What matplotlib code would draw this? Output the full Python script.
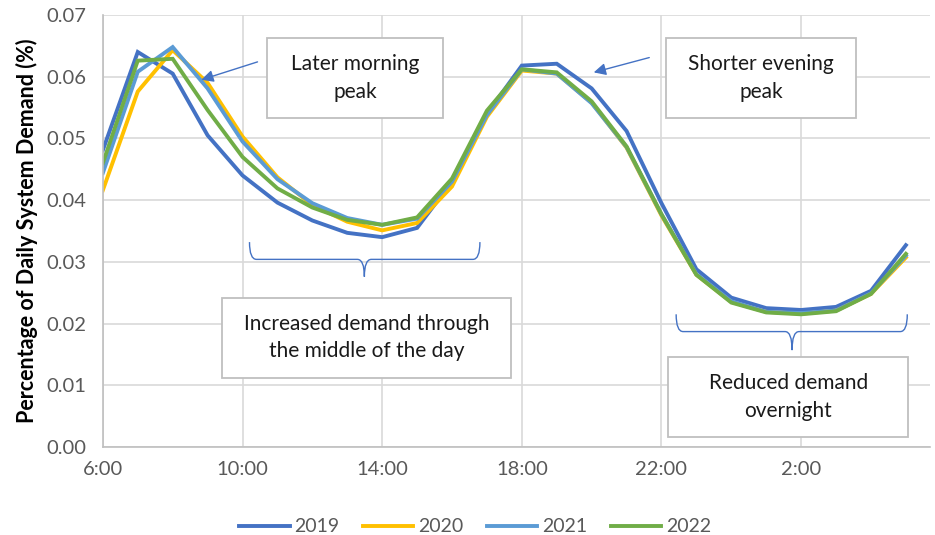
import matplotlib
matplotlib.use("Agg")
import matplotlib.pyplot as plt
from matplotlib.patches import Rectangle, PathPatch
from matplotlib.path import Path
import numpy as np

plt.rcParams['font.family'] = ['Lato', 'DejaVu Sans']

hours = ["6:00", "7:00", "8:00", "9:00", "10:00", "11:00", "12:00", "13:00",
         "14:00", "15:00", "16:00", "17:00", "18:00", "19:00", "20:00", "21:00",
         "22:00", "23:00", "0:00", "1:00", "2:00", "3:00", "4:00", "5:00"]

y2019 = [0.0481, 0.0640, 0.0605, 0.0505, 0.0440, 0.0396, 0.0367, 0.0347, 0.0340, 0.0355, 0.0430, 0.0540,
         0.0618, 0.0621, 0.0581, 0.0512, 0.0395, 0.0288, 0.0242, 0.0225, 0.0222, 0.0227, 0.0253, 0.0327]
y2020 = [0.0416, 0.0576, 0.0643, 0.0590, 0.0503, 0.0437, 0.0392, 0.0365, 0.0351, 0.0363, 0.0422, 0.0535,
         0.0610, 0.0605, 0.0558, 0.0485, 0.0375, 0.0279, 0.0235, 0.0219, 0.0216, 0.0221, 0.0248, 0.0307]
y2021 = [0.0444, 0.0608, 0.0648, 0.0581, 0.0495, 0.0434, 0.0395, 0.0371, 0.0360, 0.0370, 0.0430, 0.0538,
         0.0612, 0.0605, 0.0557, 0.0486, 0.0377, 0.0280, 0.0236, 0.0219, 0.0217, 0.0221, 0.0249, 0.0310]
y2022 = [0.0460, 0.0626, 0.0629, 0.0546, 0.0470, 0.0419, 0.0388, 0.0368, 0.0360, 0.0372, 0.0435, 0.0545,
         0.0612, 0.0607, 0.0560, 0.0487, 0.0377, 0.0279, 0.0234, 0.0218, 0.0215, 0.0220, 0.0248, 0.0313]

series = [("2019", y2019, "#4472C4"), ("2020", y2020, "#FFC000"),
          ("2021", y2021, "#5B9BD5"), ("2022", y2022, "#70AD47")]

fig = plt.figure(figsize=(9.35, 5.35), dpi=100)
ax = fig.add_axes([0.110, 0.1645, 0.885, 0.8075])

x = np.arange(len(hours))
for name, vals, col in series:
    ax.plot(x, vals, color=col, lw=2.8, label=name, solid_joinstyle='miter')

ax.set_xlim(0, 23.7)
ax.set_ylim(0, 0.07)
ax.set_xticks(x[::4])
ax.set_xticklabels(hours[::4])
ax.set_yticks(np.arange(0, 0.0701, 0.01))
ax.set_yticklabels(["%.2f" % v for v in np.arange(0, 0.0701, 0.01)])
ax.grid(True, color="#d9d9d9", lw=1.2)
ax.set_axisbelow(True)
for s in ["top", "right"]:
    ax.spines[s].set_visible(False)
for s in ["left", "bottom"]:
    ax.spines[s].set_color("#bfbfbf")
    ax.spines[s].set_linewidth(1.2)
ax.tick_params(length=0, labelsize=14.5, colors="#595959")
ax.tick_params(axis='y', pad=12)
ax.tick_params(axis='x', pad=10)
ax.set_ylabel("Percentage of Daily System Demand (%)", fontsize=15.5, fontweight='bold', labelpad=6)

ax.legend(loc='upper center', bbox_to_anchor=(0.45, -0.125), ncol=4, frameon=False,
          fontsize=14, handlelength=2.6, handletextpad=0.25, columnspacing=1.2, labelcolor="#595959")


def box(x0, x1, y0, y1, text):
    ax.add_patch(Rectangle((x0, y0), x1 - x0, y1 - y0, fill=True, fc="white",
                           ec="#bfbfbf", lw=1.3, clip_on=False, zorder=5))
    ax.text((x0 + x1) / 2, (y0 + y1) / 2, text, ha='center', va='center',
            fontsize=15, color="#1a1a1a", zorder=6, linespacing=1.45)


def brace(x0, x1, xc, ytop, yline, ybot, dx=0.2):
    verts = [(x0, ytop), (x0, yline), (x0 + dx, yline),
             (xc - dx, yline), (xc, yline), (xc, ybot),
             (xc, yline), (xc + dx, yline),
             (x1 - dx, yline), (x1, yline), (x1, ytop)]
    codes = [Path.MOVETO, Path.CURVE3, Path.CURVE3,
             Path.LINETO, Path.CURVE3, Path.CURVE3,
             Path.CURVE3, Path.CURVE3,
             Path.LINETO, Path.CURVE3, Path.CURVE3]
    ax.add_patch(PathPatch(Path(verts, codes), fill=False, ec="#4472C4", lw=1.0, clip_on=False))


box(4.71, 9.74, 0.0533, 0.0663, "Later morning\npeak")
box(16.14, 21.57, 0.0533, 0.0663, "Shorter evening\npeak")
box(3.40, 11.69, 0.0112, 0.0242, "Increased demand through\nthe middle of the day")
box(16.2, 23.06, 0.0016, 0.0146, "Reduced demand\novernight")

arrow = dict(arrowstyle="-|>", color="#4472C4", lw=1.0, mutation_scale=18, shrinkA=0, shrinkB=0)
ax.annotate("", xy=(2.82, 0.0595), xytext=(4.43, 0.0624), arrowprops=arrow)
ax.annotate("", xy=(14.06, 0.0607), xytext=(15.65, 0.0631), arrowprops=arrow)

brace(4.2, 10.8, 7.49, 0.0332, 0.0304, 0.0276)
brace(16.42, 23.04, 19.74, 0.0215, 0.0187, 0.0157)

fig.savefig("out.png", dpi=100)
